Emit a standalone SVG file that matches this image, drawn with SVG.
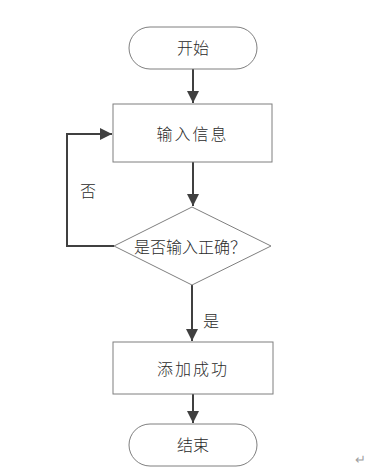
<svg xmlns="http://www.w3.org/2000/svg" width="375" height="476" viewBox="0 0 375 476">
<style>
.shape{fill:#fff;stroke:#7f7f7f;stroke-width:1}
.conn{fill:none;stroke:#404040;stroke-width:2}
text{font-family:"Noto Sans CJK SC","Noto Sans",sans-serif;font-size:16px;font-weight:300;fill:#2a2a2a;text-anchor:middle;dominant-baseline:central}
.sp{letter-spacing:2px}
</style>
<defs>
<marker id="ah" viewBox="0 0 10 10" refX="10" refY="5" markerWidth="6" markerHeight="6" orient="auto" markerUnits="strokeWidth">
<path d="M0,0 L10,5 L0,10 z" fill="#404040"/>
</marker>
</defs>
<rect width="375" height="476" fill="#fff"/>
<g id="connectors">
<line class="conn" x1="193" y1="69" x2="193" y2="103" marker-end="url(#ah)"/>
<line class="conn" x1="193" y1="162" x2="193" y2="206" marker-end="url(#ah)"/>
<polyline class="conn" points="114,246 67,246 67,134 112,134" marker-end="url(#ah)"/>
<line class="conn" x1="192" y1="285" x2="192" y2="341" marker-end="url(#ah)"/>
<line class="conn" x1="193" y1="394" x2="193" y2="423" marker-end="url(#ah)"/>
<text x="88" y="190">否</text>
<text x="211" y="320">是</text>
</g>
<g id="start">
<rect class="shape" x="129" y="27" width="128" height="42" rx="21"/>
<text x="193" y="47">开始</text>
</g>
<g id="input">
<rect class="shape" x="113" y="104" width="159" height="58"/>
<text class="sp" x="192.5" y="133">输入信息</text>
</g>
<g id="check">
<polygon class="shape" points="192,207 271,246 192,285 114,246"/>
<text x="190" y="246">是否输入正确？</text>
</g>
<g id="success">
<rect class="shape" x="113" y="342" width="160" height="52"/>
<text class="sp" x="193" y="368">添加成功</text>
</g>
<g id="end">
<rect class="shape" x="129" y="424" width="128" height="42" rx="21"/>
<text x="193" y="444">结束</text>
</g>
<text x="360" y="458" style="font-size:13px;fill:#a0a0a0">↵</text>
</svg>
